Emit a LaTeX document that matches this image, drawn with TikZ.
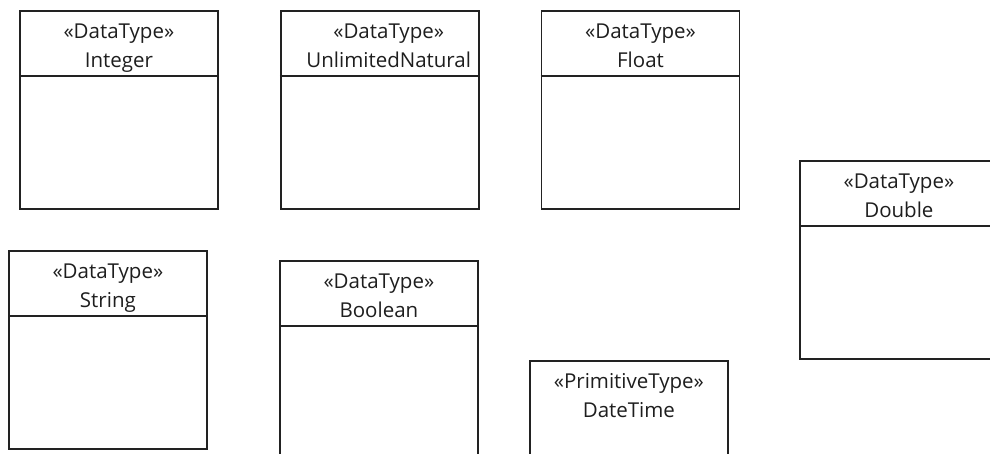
\documentclass[tikz,border=0pt]{standalone}
\usepackage{fontspec}
\setmainfont{Open Sans}
\usetikzlibrary{positioning}
\definecolor{umlline}{RGB}{34,34,34}
\definecolor{umltext}{RGB}{30,30,30}

\begin{document}
\begin{tikzpicture}[x=1pt,y=-1pt,node distance=61pt,
    font=\fontsize{20.5}{29}\selectfont,every node/.style={align=center,text=umltext},
    classbox/.style={draw=umlline,line width=1.8pt,minimum width=198pt,minimum height=198pt,inner sep=0pt},
    classname/.style={anchor=north,inner sep=0pt}]
  \useasboundingbox (0,0) rectangle (990,454);
  % first row of data types
  \node[classbox,anchor=north west] (int) at (19,10) {};
  \node[classbox,right=of int] (unat) {};
  \node[classbox,right=of unat] (flt) {};
  % the rest, placed by hand
  \node[classbox,anchor=north west] (dbl) at (799,160) {};
  \node[classbox,anchor=north west] (str) at (8,250) {};
  \node[classbox,anchor=north west] (bool) at (279,260) {};
  \node[classbox,anchor=north west] (dtime) at (529,360) {};
  % name compartments
  \foreach \c in {int,unat,flt,dbl,str,bool}
    \draw[umlline,line width=1.8pt] ([yshift=-66pt]\c.north west) -- ([yshift=-66pt]\c.north east);
  \node[classname,below=13.5pt of int.north] (intname) {«DataType»\\Integer};
  \node[classname,below=13.5pt of unat.north,xshift=9pt] (unatname) {«DataType»\\UnlimitedNatural};
  \node[classname,below=13.5pt of flt.north] (fltname) {«DataType»\\Float};
  \node[classname,below=13.5pt of dbl.north] (dblname) {«DataType»\\Double};
  \node[classname,below=13.5pt of str.north] (strname) {«DataType»\\String};
  \node[classname,below=13.5pt of bool.north] (boolname) {«DataType»\\Boolean};
  \node[classname,below=13.5pt of dtime.north] (dtimename) {«PrimitiveType»\\DateTime};
\end{tikzpicture}
\end{document}
